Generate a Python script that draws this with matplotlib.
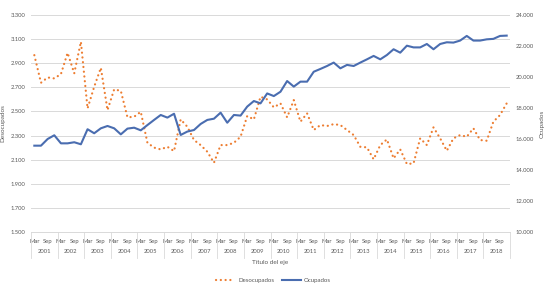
import numpy as np
import matplotlib
matplotlib.use("Agg")
import matplotlib.pyplot as plt
from matplotlib.ticker import FuncFormatter, FixedLocator
from matplotlib.lines import Line2D
import matplotlib.transforms as mtransforms

plt.rcParams['font.family'] = ['Lato', 'DejaVu Sans']

years = [str(y) for y in range(2001, 2019)]
quarters = ["Mar", "Jun", "Sep", "Dic"]

desocupados = [
    2967, 2738, 2782, 2774, 2810, 2986, 2816, 3078,
    2525, 2705, 2862, 2511, 2683, 2671, 2451, 2456,
    2497, 2240, 2200, 2185, 2207, 2171, 2434, 2373,
    2263, 2221, 2166, 2074, 2221, 2221, 2240, 2290,
    2462, 2434, 2622, 2600, 2534, 2567, 2451, 2594,
    2415, 2484, 2346, 2387, 2379, 2395, 2387, 2346,
    2304, 2207, 2202, 2103, 2221, 2268, 2111, 2185,
    2064, 2069, 2277, 2221, 2368, 2277, 2174, 2277,
    2304, 2290, 2360, 2263, 2257, 2415, 2470, 2567,
]

ocupados = [
    15570, 15570, 16000, 16240, 15720, 15720, 15790, 15660,
    16630, 16370, 16690, 16840, 16690, 16300, 16670, 16730,
    16560, 16900, 17230, 17550, 17380, 17630, 16260, 16480,
    16580, 16970, 17230, 17310, 17700, 17050, 17550, 17510,
    18090, 18450, 18300, 18940, 18770, 19050, 19740, 19380,
    19700, 19700, 20340, 20520, 20710, 20930, 20560, 20780,
    20710, 20930, 21140, 21360, 21140, 21420, 21790, 21570,
    22020, 21910, 21910, 22130, 21790, 22130, 22240, 22220,
    22350, 22650, 22350, 22350, 22430, 22460, 22650, 22670,
]

left_ticks = [1500, 1700, 1900, 2100, 2300, 2500, 2700, 2900, 3100, 3300]
right_ticks = [10000, 12000, 14000, 16000, 18000, 20000, 22000, 24000]

ORANGE = "#ED7D31"
BLUE = "#4A6DB0"
GRID = "#D9D9D9"
TXT = "#595959"

def es_fmt(v, pos=None):
    return "{:,.0f}".format(v).replace(",", ".")

fig = plt.figure(figsize=(5.5, 2.93), dpi=100)
ax = fig.add_axes([31 / 550, 1 - 232 / 293, (510 - 31) / 550, (232 - 15) / 293])
ax2 = ax.twinx()

n = len(desocupados)
x = np.arange(n)

ax.plot(x, desocupados, color=ORANGE, lw=1.6, linestyle=(0, (0.05, 2.1)),
        dash_capstyle="round", label="Desocupados", zorder=3)
ax2.plot(x, ocupados, color=BLUE, lw=1.5, label="Ocupados", zorder=3,
         solid_joinstyle="round")

ax.set_xlim(-0.5, n - 0.5)
ax.set_ylim(1500, 3300)
ax2.set_ylim(10000, 24000)

ax.yaxis.set_major_locator(FixedLocator(left_ticks))
ax2.yaxis.set_major_locator(FixedLocator(right_ticks))
ax.yaxis.set_major_formatter(FuncFormatter(es_fmt))
ax2.yaxis.set_major_formatter(FuncFormatter(es_fmt))
ax.grid(axis="y", color=GRID, lw=0.7)
ax.set_axisbelow(True)

for a in (ax, ax2):
    for s in a.spines.values():
        s.set_visible(False)
    a.tick_params(axis="y", length=0, labelsize=4.2, labelcolor=TXT, pad=4)

ax.spines["bottom"].set_visible(True)
ax.spines["bottom"].set_color(GRID)
ax.spines["bottom"].set_linewidth(0.7)

# first-level category labels (every other quarter)
tick_pos = [i for i in range(n) if i % 2 == 0]
tick_lab = [quarters[i % 4] for i in tick_pos]
ax.set_xticks(tick_pos)
ax.set_xticklabels(tick_lab)
ax.tick_params(axis="x", length=0, labelsize=4.2, labelcolor=TXT, pad=5)

trans = mtransforms.blended_transform_factory(ax.transData, ax.transAxes)
ny = len(years)
for k in range(ny + 1):
    xb = k * 4 - 0.5
    ax.add_line(Line2D([xb, xb], [0, -0.12], transform=trans, color=GRID,
                       lw=0.6, clip_on=False))
for k, yr in enumerate(years):
    ax.text(k * 4 + 1.5, -0.092, yr, transform=trans, ha="center", va="center",
            fontsize=4.2, color=TXT)

ax.text(0.5, -0.14, "Título del eje", transform=ax.transAxes, ha="center",
        va="center", fontsize=4.6, color=TXT)

ax.set_ylabel("Desocupados", fontsize=4.6, color=TXT, labelpad=4)
ax2.set_ylabel("Ocupados", fontsize=4.6, color=TXT, labelpad=4)

h1, l1 = ax.get_legend_handles_labels()
h2, l2 = ax2.get_legend_handles_labels()
fig.legend(h1 + h2, l1 + l2, loc="center", bbox_to_anchor=(0.497, 1 - 280 / 293),
           ncol=2, frameon=False, fontsize=4.4, labelcolor=TXT,
           handlelength=3.2, columnspacing=1.2, handletextpad=0.5)

fig.savefig("out.png", dpi=100)
